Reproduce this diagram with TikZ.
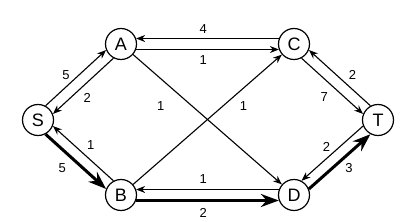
\documentclass[tikz,border=0pt]{standalone}
\usepackage{fontspec}
\setmainfont{Liberation Sans}
\usetikzlibrary{arrows.meta, positioning}

\begin{document}
\begin{tikzpicture}[x=1pt, y=1pt,
  vtx/.style={draw, circle, line width=1.2pt, minimum size=31pt, inner sep=0pt, font=\fontsize{18}{20}\selectfont},
  lbl/.style={inner sep=1pt, font=\fontsize{13}{15}\selectfont},
  arc/.style={-{Stealth[length=9pt, width=7pt]}, line width=1.1pt},
  flow/.style={-{Stealth[length=18pt, width=13pt]}, line width=3pt}]
  \useasboundingbox (0,0) rectangle (413,222);

  \node[vtx] (s) at (38,102) {S};
  \node[vtx] (a) at (121,178) {A};
  \node[vtx] (b) at (121,27) {B};
  \node[vtx] (c) at (294,178) {C};
  \node[vtx] (d) at (294,27) {D};
  \node[vtx] (t) at (378,102) {T};

  % S -- A
  \draw[arc] (s.62) -- (a.202) node[lbl, pos=0.44, above left=0.5pt and 1pt] {5};
  \draw[arc] (a.242) -- (s.22) node[lbl, pos=0.565, below right=2.3pt and 2.8pt] {2};
  % S -- B
  \draw[arc] (b.118) -- (s.-22) node[lbl, midway, above right=2.1pt and 2.3pt] {1};
  \draw[flow] (s.-62) -- (b.158) node[lbl, pos=0.43, below left=2.9pt and 3.1pt] {5};
  % A -- C
  \draw[arc] (c.160) -- (a.20) node[lbl, pos=0.53, above=3.2pt] {4};
  \draw[arc] (a.-20) -- (c.200) node[lbl, pos=0.47, below=5pt] {1};
  % diagonals
  \draw[arc] (a) -- (d) node[lbl, pos=0.285, below left=8.5pt and 9.5pt] {1};
  \draw[arc] (b) -- (c) node[lbl, pos=0.68, below right=3.6pt and 4pt] {1};
  % B -- D
  \draw[arc] (d.160) -- (b.20) node[lbl, pos=0.53, above=4.5pt] {1};
  \draw[flow] (b.-20) -- (d.200) node[lbl, pos=0.47, below=5pt] {2};
  % C -- T
  \draw[arc] (t.118) -- (c.-22) node[lbl, pos=0.41, above right=1.8pt and 2pt] {2};
  \draw[arc] (c.-62) -- (t.158) node[lbl, pos=0.52, below left=4.2pt and 4.2pt] {7};
  % D -- T
  \draw[arc] (t.202) -- (d.62) node[lbl, midway, above left=0.5pt and 0.6pt] {2};
  \draw[flow] (d.22) -- (t.242) node[lbl, pos=0.53, below right=1.2pt and 1.4pt] {3};
\end{tikzpicture}
\end{document}
